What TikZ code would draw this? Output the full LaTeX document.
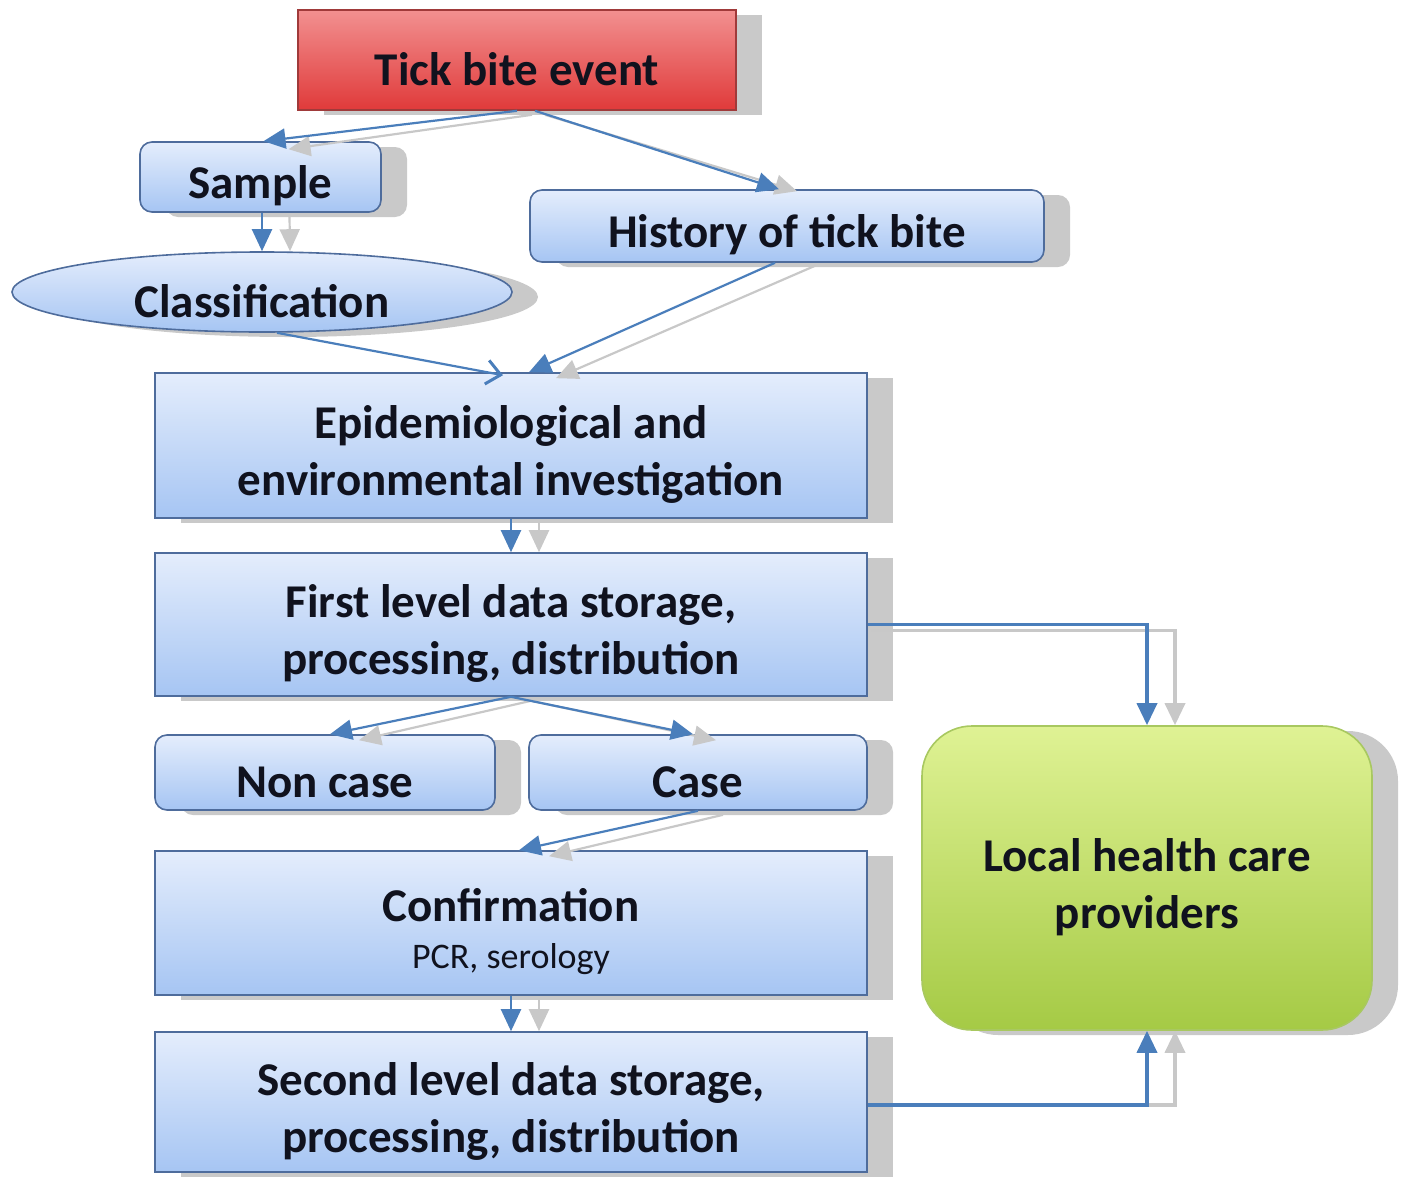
\documentclass[tikz,border=0pt]{standalone}
\usepackage{fontspec}
\setmainfont{Carlito}
\usetikzlibrary{arrows.meta,shapes.geometric,shadows,calc}
\definecolor{bluetop}{HTML}{E4EDFC}
\definecolor{bluebot}{HTML}{A6C5F3}
\definecolor{bordblue}{HTML}{4E6C9C}
\definecolor{redtop}{HTML}{F29090}
\definecolor{redbot}{HTML}{E03A3A}
\definecolor{bordred}{HTML}{A03A3A}
\definecolor{greentop}{HTML}{DFF294}
\definecolor{greenbot}{HTML}{A5CA45}
\definecolor{bordgreen}{HTML}{A8C860}
\definecolor{shgray}{HTML}{C9C9C9}
\definecolor{linkblue}{HTML}{4A7EBB}
\definecolor{linkgray}{HTML}{C8C8C8}
\definecolor{txt}{HTML}{10121E}
\newcommand\lblfont{\fontsize{47}{57}\selectfont\bfseries}
\newcommand\subfont{\fontsize{36}{40}\selectfont\mdseries}
\newcommand\dn{\rule{0pt}{51pt}}
\begin{document}
\begin{tikzpicture}[x=1pt,y=-1pt,
  boxshadow/.style={drop shadow={shadow xshift=26pt,shadow yshift=-5pt,fill=shgray,opacity=1}},
  bluebox/.style={draw=bordblue,line width=1.6pt,top color=bluetop,bottom color=bluebot,boxshadow,inner sep=0pt,align=center,font=\lblfont,text=txt},
  roundbox/.style={bluebox,rounded corners=12pt},
  redbox/.style={draw=bordred,line width=1.6pt,top color=redtop,bottom color=redbot,boxshadow,inner sep=0pt,align=center,font=\lblfont,text=txt},
  greenbox/.style={draw=bordgreen,line width=1.6pt,top color=greentop,bottom color=greenbot,boxshadow,rounded corners=50pt,inner sep=0pt,align=center,font=\lblfont,text=txt},
  link/.style={draw=linkblue,line width=2.2pt,-{Triangle[length=22pt,width=20pt]}},
  linkshadow/.style={draw=linkgray,line width=2.2pt,-{Triangle[length=22pt,width=20pt]}},
  thicklink/.style={link,line width=3.6pt},
  thickshadow/.style={linkshadow,line width=3.6pt},
  barblink/.style={draw=linkblue,line width=2.2pt,-{Straight Barb[length=14pt,width=24pt,line width=3pt]}}
]
\useasboundingbox (0,0) rectangle (1401,1178);

\node[redbox,minimum width=438pt,minimum height=100pt] (tick) at (517,60) {\dn Tick bite event};
\node[roundbox,minimum width=241pt,minimum height=70pt] (sample) at (260.5,177) {\dn Sample};
\node[roundbox,minimum width=514pt,minimum height=72pt] (history) at (787,226) {\dn History of tick bite};
\node[bluebox,ellipse,minimum width=500pt,minimum height=80pt] (class) at (262,292) {\dn Classification};
\node[bluebox,minimum width=712pt,minimum height=145pt] (epi) at (511,445.5) {\dn Epidemiological and\\environmental investigation};
\node[bluebox,minimum width=712pt,minimum height=143pt] (first) at (511,624.5) {\dn First level data storage,\\processing, distribution};
\node[roundbox,minimum width=340pt,minimum height=75pt] (noncase) at (325,772.5) {\dn Non case};
\node[roundbox,minimum width=338pt,minimum height=75pt] (case) at (698,772.5) {\dn Case};
\node[bluebox,minimum width=712pt,minimum height=144pt] (conf) at (511,923) {\dn Confirmation\\[-10pt]{\subfont PCR, serology}};
\node[bluebox,minimum width=712pt,minimum height=140pt] (second) at (511,1102) {\dn Second level data storage,\\processing, distribution};
\node[greenbox,minimum width=450pt,minimum height=304pt] (local) at (1147,878) {\dn Local health care\\providers};

% tick -> sample
\draw[linkshadow] ($(tick.south)+(15,4)$) -- ($(sample.north)+(28,8)$);
\draw[link] (tick.south) -- ($(sample.north)+(3,0)$);
% tick -> history
\draw[linkshadow] ($(tick.south)+(28,4)$) -- ($(history.north)+(10,2)$);
\draw[link] ($(tick.south)+(18,0)$) -- ($(history.north)+(-8,0)$);
% sample -> classification
\draw[linkshadow] ($(sample.south)+(29,3)$) -- ($(class.north)+(28,0)$);
\draw[link] ($(sample.south)+(1.5,0)$) -- (class.north);
% classification -> epi
\draw[barblink] ($(class.south)+(15,0)$) -- ($(epi.north)+(-8,3)$);
% history -> epi
\draw[linkshadow] ($(history.south)+(28,3)$) -- ($(epi.north)+(45,6)$);
\draw[link] ($(history.south)+(-12,0)$) -- ($(epi.north)+(18,0)$);
% epi -> first
\draw[linkshadow] ($(epi.south)+(28,3)$) -- ($(first.north)+(28,0)$);
\draw[link] (epi.south) -- (first.north);
% first -> non case / case
\draw[linkshadow] ($(first.south)+(20,4)$) -- ($(noncase.north)+(34,6)$);
\draw[linkshadow] ($(first.south)+(20,4)$) -- ($(case.north)+(18,6)$);
\draw[link] (first.south) -- ($(noncase.north)+(5,0)$);
\draw[link] (first.south) -- ($(case.north)+(-5,0)$);
% case -> confirmation
\draw[linkshadow] ($(case.south)+(25,4)$) -- ($(conf.north)+(38,6)$);
\draw[link] (case.south) -- ($(conf.north)+(8,0)$);
% confirmation -> second
\draw[linkshadow] ($(conf.south)+(28,3)$) -- ($(second.north)+(28,0)$);
\draw[link] (conf.south) -- (second.north);
% first -> local
\draw[thickshadow] ($(first.east)+(3,6)$) -| ($(local.north)+(28,0)$);
\draw[thicklink] (first.east) -| (local.north);
% second -> local
\draw[thickshadow] ($(second.east)+(3,3)$) -| ($(local.south)+(28,0)$);
\draw[thicklink] ($(second.east)+(0,3)$) -| (local.south);
\end{tikzpicture}
\end{document}
